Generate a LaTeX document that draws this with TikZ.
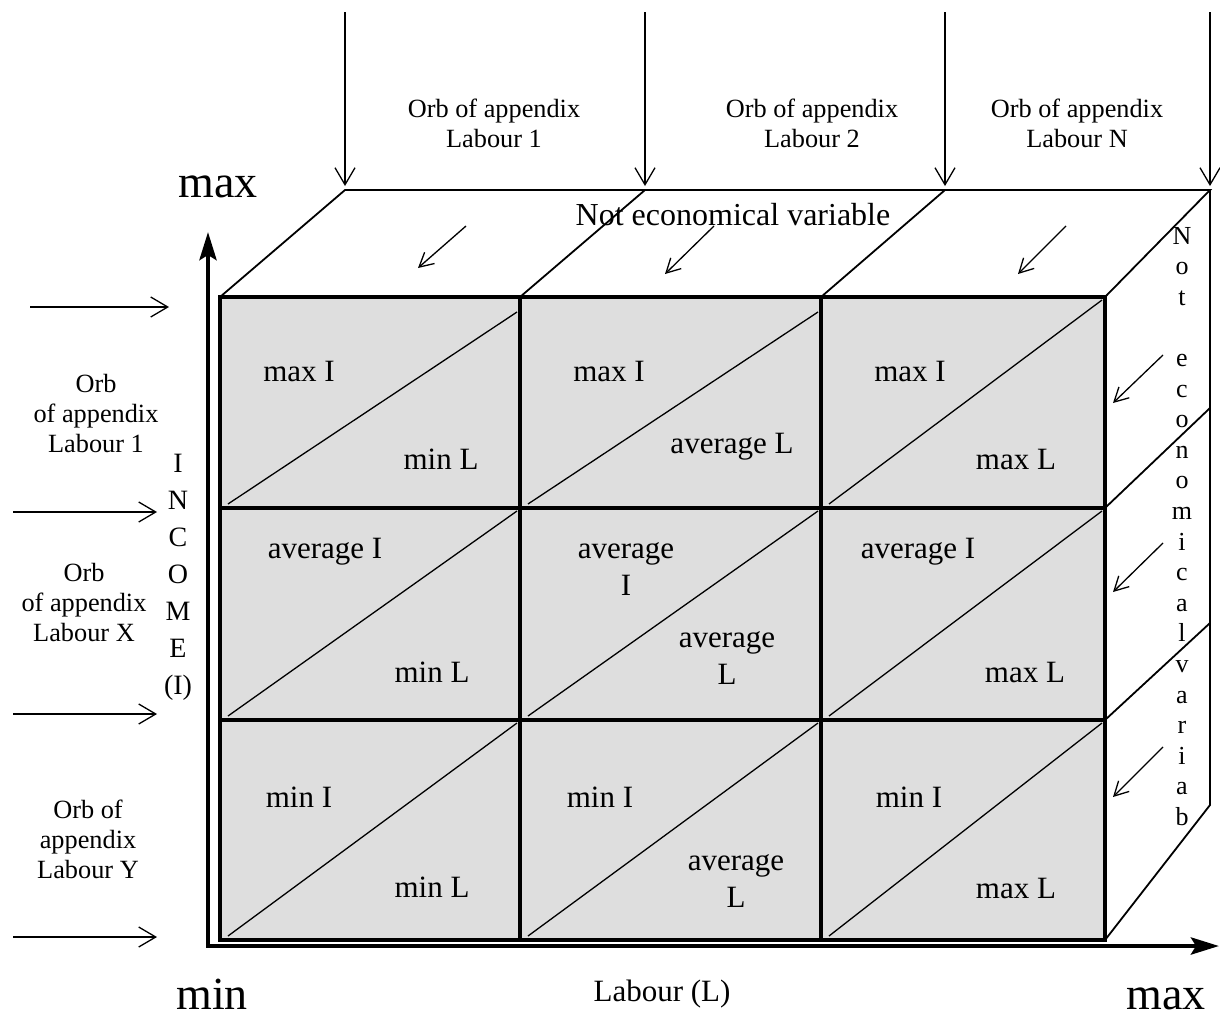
\documentclass[tikz,border=0pt]{standalone}
\usepackage{fontspec}
\setmainfont{Liberation Serif}
\usetikzlibrary{arrows.meta,calc}
\definecolor{cellgray}{HTML}{DEDEDE}
\newcommand\cellsize{\fontsize{31}{37}\selectfont}
\newcommand\orbsize{\fontsize{26.3}{30}\selectfont}
\newcommand\bigsize{\fontsize{46}{50}\selectfont}
\begin{document}
\begin{tikzpicture}[x=1pt,y=-1pt,
  cellbox/.style 2 args={draw,line width=4pt,fill=cellgray,inner sep=0pt,outer sep=0pt,
    minimum width=#1,minimum height=#2},
  diag/.style={line width=1.3pt},
  edge/.style={line width=1.8pt,line join=miter},
  axis/.style={line width=4.5pt,line join=miter,
    {Stealth[length=28pt,width=17pt,inset=5pt]}-{Stealth[length=28pt,width=17pt,inset=5pt]}},
  feed/.style={line width=1.3pt,-{Straight Barb[length=17pt,width=20pt]}},
  hint/.style={line width=1.3pt,-{Straight Barb[length=14pt,width=15pt]}},
  celltext/.style={font=\cellsize,inner sep=0pt,anchor=base},
  cellpair/.style={font=\cellsize,inner sep=0pt,align=center},
  orb/.style={font=\orbsize,inner sep=0pt,align=center},
  letter/.style={inner sep=0pt,anchor=base},
]
\useasboundingbox (0,0) rectangle (1220,1018);
\fill[white] (0,0) rectangle (1220,1018);

% front face: 3 x 3 grid of cells
\node[cellbox={300pt}{211pt}] (c11) at (370,402.5) {};
\node[cellbox={301pt}{211pt}] (c12) at (670.5,402.5) {};
\node[cellbox={284pt}{211pt}] (c13) at (963,402.5) {};
\node[cellbox={300pt}{212pt}] (c21) at (370,614) {};
\node[cellbox={301pt}{212pt}] (c22) at (670.5,614) {};
\node[cellbox={284pt}{212pt}] (c23) at (963,614) {};
\node[cellbox={300pt}{220pt}] (c31) at (370,830) {};
\node[cellbox={301pt}{220pt}] (c32) at (670.5,830) {};
\node[cellbox={284pt}{220pt}] (c33) at (963,830) {};

% cell diagonals
\foreach \c/\d in {c11/15,c12/15,c13/3,c21/3,c22/3,c23/3,c31/3,c32/3,c33/3}
  \draw[diag] ($(\c.south west)+(8,-4)$) -- ($(\c.north east)+(-3,\d)$);

% top and right faces of the box
\coordinate (tl) at (345,190);
\coordinate (tm1) at (645,190);
\coordinate (tm2) at (945,190);
\coordinate (tr) at (1210,190);
\coordinate (rm1) at (1210,408);
\coordinate (rm2) at (1210,623);
\coordinate (br) at (1210,805);
\draw[edge] (c11.north west) -- (tl) -- (tr) -- (c13.north east);
\draw[edge] (c12.north west) -- (tm1);
\draw[edge] (c13.north west) -- (tm2);
\draw[edge] (tr) -- (br) -- (c33.south east);
\draw[edge] (c13.south east) -- (rm1);
\draw[edge] (c23.south east) -- (rm2);

% axes
\coordinate (ytop) at (208,232);
\coordinate (origin) at (208,946);
\coordinate (xend) at (1219,946);
\draw[axis] (ytop) -- (origin) -- (xend);

% incoming arrows from above
\foreach \x [count=\i] in {345,645,945,1210}
  \coordinate (src\i) at (\x,12);
\draw[feed] (src1) -- ([yshift=4pt]tl);
\draw[feed] (src2) -- ([yshift=4pt]tm1);
\draw[feed] (src3) -- ([yshift=4pt]tm2);
\draw[feed] (src4) -- ([yshift=4pt]tr);

% incoming arrows from the left
\coordinate (l1a) at (30,307);   \coordinate (l1b) at (169,307);
\coordinate (l2a) at (13,512);   \coordinate (l2b) at (157,512);
\coordinate (l3a) at (13,714);   \coordinate (l3b) at (157,714);
\coordinate (l4a) at (13,937);   \coordinate (l4b) at (157,937);
\draw[feed] (l1a) -- (l1b);
\draw[feed] (l2a) -- (l2b);
\draw[feed] (l3a) -- (l3b);
\draw[feed] (l4a) -- (l4b);

% depth arrows on the top face
\coordinate (h1a) at (466,226);  \coordinate (h1b) at (418,268);
\coordinate (h2a) at (714,226);  \coordinate (h2b) at (665,274);
\coordinate (h3a) at (1066,226); \coordinate (h3b) at (1018,274);
\draw[hint] (h1a) -- (h1b);
\draw[hint] (h2a) -- (h2b);
\draw[hint] (h3a) -- (h3b);

% depth arrows on the right face
\coordinate (v1a) at (1163,355); \coordinate (v1b) at (1113,403);
\coordinate (v2a) at (1163,543); \coordinate (v2b) at (1113,592);
\coordinate (v3a) at (1163,747); \coordinate (v3b) at (1113,797);
\draw[hint] (v1a) -- (v1b);
\draw[hint] (v2a) -- (v2b);
\draw[hint] (v3a) -- (v3b);

% cell labels
\node[celltext] (t11a) at (299,381) {max I};
\node[celltext] (t11b) at (441,469) {min L};
\node[celltext] (t12a) at (609,381) {max I};
\node[celltext] (t12b) at (732,453) {average L};
\node[celltext] (t13a) at (910,381) {max I};
\node[celltext] (t13b) at (1016,469) {max L};
\node[celltext] (t21a) at (325,558) {average I};
\node[celltext] (t21b) at (432,682) {min L};
\node[cellpair] (t22a) at (626,569.5) {average\\I};
\node[cellpair] (t22b) at (727,658) {average\\L};
\node[celltext] (t23a) at (918,558) {average I};
\node[celltext] (t23b) at (1025,682) {max L};
\node[celltext] (t31a) at (299,807) {min I};
\node[celltext] (t31b) at (432,897) {min L};
\node[celltext] (t32a) at (600,807) {min I};
\node[cellpair] (t32b) at (736,881.5) {average\\L};
\node[celltext] (t33a) at (909,807) {min I};
\node[celltext] (t33b) at (1016,898) {max L};

% face and axis captions
\node[font=\fontsize{32}{36}\selectfont,inner sep=0pt,anchor=base] (nev) at (733,225) {Not economical variable};
% vertical caption on the right face, one letter per line
\foreach \ch/\k in {N/0,o/1,t/2,e/4,c/5,o/6,n/7,o/8,m/9,i/10,c/11,a/12,l/13,v/14,a/15,r/16,i/17,a/18,b/19}
  \node[letter,font=\fontsize{26}{30}\selectfont] (side\k) at (1182,{244+30.6*\k}) {\ch};
% vertical income axis caption
\foreach \ch/\k in {I/0,N/1,C/2,O/3,M/4,E/5,(I)/6}
  \node[letter,font=\fontsize{28}{32}\selectfont] (inc\k) at (178,{472+37*\k}) {\ch};
\node[font=\bigsize,inner sep=0pt,anchor=base] (ymax) at (218,197) {max};
\node[font=\bigsize,inner sep=0pt,anchor=base] (xmin) at (212,1009) {min};
\node[font=\bigsize,inner sep=0pt,anchor=base] (xmax) at (1166,1009) {max};
\node[font=\fontsize{31}{35}\selectfont,inner sep=0pt,anchor=base] (labour) at (662,1001) {Labour (L)};

% source labels
\node[orb] (lab1) at (494,123) {Orb of appendix\\Labour 1};
\node[orb] (lab2) at (812,123) {Orb of appendix\\Labour 2};
\node[orb] (labN) at (1077,123) {Orb of appendix\\Labour N};
\node[orb] (labL1) at (96,413) {Orb\\of appendix\\Labour 1};
\node[orb] (labLX) at (84,602) {Orb\\of appendix\\Labour X};
\node[orb] (labLY) at (88,839) {Orb of\\appendix\\Labour Y};
\end{tikzpicture}
\end{document}
